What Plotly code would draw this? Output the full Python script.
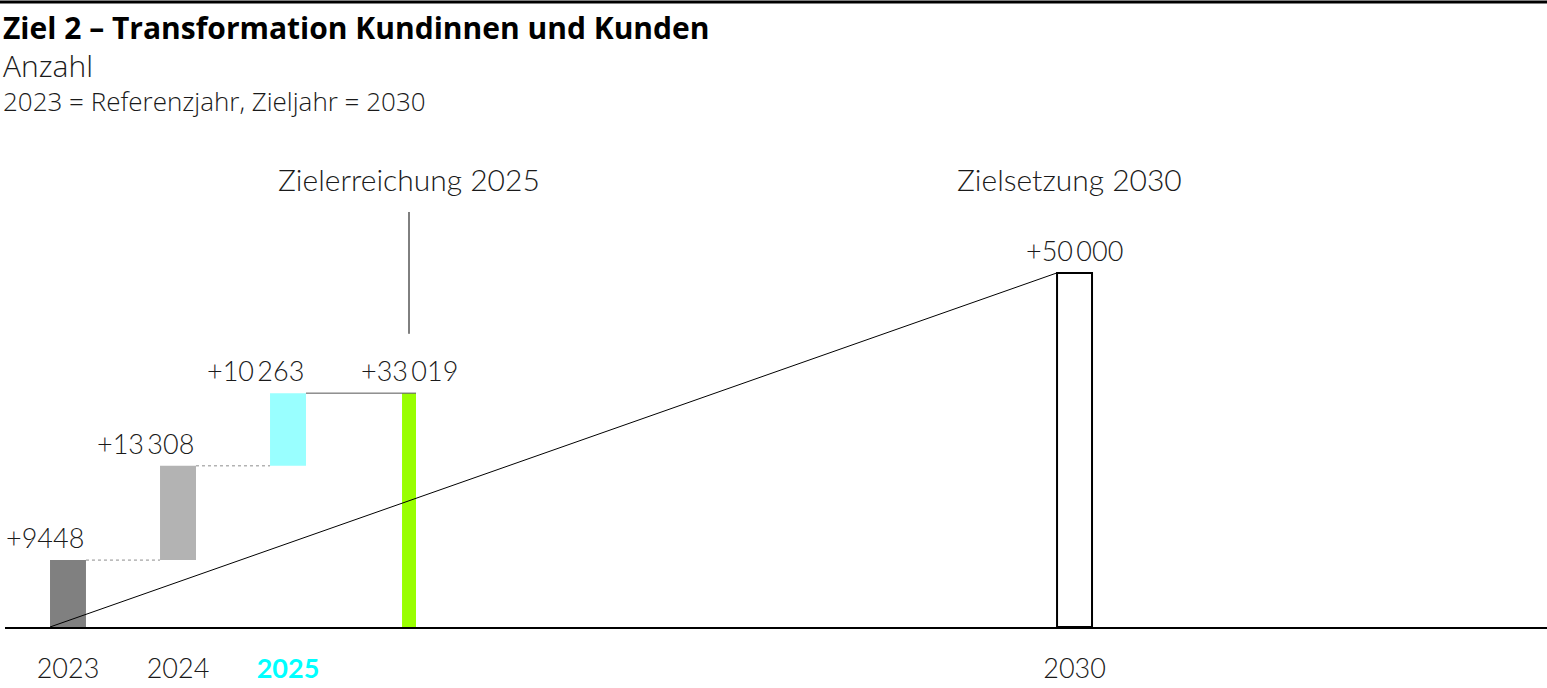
import plotly.graph_objects as go

# Werte
jahre = ["2023", "2024", "2025"]
zuwachs = [9448, 13308, 10263]
ziel_2025 = 33019
ziel_2030 = 50000
achsen_labels = ["2023", "2024", "<span style='color:#00ffff'><b>2025</b></span>", "2030"]

farben = ["#808080", "#b3b3b3", "#99ffff"]
gruen = "#99ff00"

# Lage auf der x-Achse (1 Einheit = ein Jahresschritt)
x_pos = [0, 1, 2]
x_z25 = 3.1
x_z30 = 9.15
w = 0.327
w25 = 0.127
w30 = 0.318

FONT = "Lato"
FONT_T = "Open Sans"
TXT = "#1a1a1a"


def fmt(v):
    s = f"{v:,}".replace(",", "\u2009") if v >= 10000 else str(v)
    return "+" + s


bases = []
s = 0
for v in zuwachs:
    bases.append(s)
    s += v

fig = go.Figure()

fig.add_trace(go.Bar(x=x_pos, y=zuwachs, base=bases, width=w,
                     marker=dict(color=farben, line=dict(width=0)), hoverinfo="skip"))
fig.add_trace(go.Bar(x=[x_z25], y=[ziel_2025], width=w25,
                     marker=dict(color=gruen, line=dict(width=0)), hoverinfo="skip"))
fig.add_trace(go.Bar(x=[x_z30], y=[ziel_2030], width=w30,
                     marker=dict(color="white", line=dict(color="black", width=2)), hoverinfo="skip"))

# Verbindungslinien
for i in range(len(zuwachs) - 1):
    top = bases[i] + zuwachs[i]
    fig.add_trace(go.Scatter(x=[x_pos[i] + w / 2, x_pos[i + 1] - w / 2], y=[top, top],
                             mode="lines", line=dict(color="#8c8c8c", width=1, dash="dot"),
                             hoverinfo="skip"))
fig.add_trace(go.Scatter(x=[x_pos[-1] + w / 2, x_z25 + w25 / 2], y=[ziel_2025, ziel_2025],
                         mode="lines", line=dict(color="#555555", width=1), hoverinfo="skip"))

# Zielpfad 2023 -> 2030
fig.add_trace(go.Scatter(x=[x_pos[0] - w / 2, x_z30 - w30 / 2], y=[0, ziel_2030],
                         mode="lines", line=dict(color="black", width=1), hoverinfo="skip"))

lbl = dict(family=FONT, size=27, color=TXT, weight=300)
ann = []
for i, v in enumerate(zuwachs):
    ann.append(dict(x=x_pos[i] + w / 2, y=bases[i] + v, text=fmt(v), xanchor="right",
                    yanchor="bottom", yshift=4, showarrow=False, font=lbl))
ann.append(dict(x=x_z25, y=ziel_2025, text=fmt(ziel_2025), xanchor="center",
                yanchor="bottom", yshift=4, showarrow=False, font=lbl))
ann.append(dict(x=x_z30, y=ziel_2030, text=fmt(ziel_2030), xanchor="center",
                yanchor="bottom", yshift=4, showarrow=False, font=lbl))
ann.append(dict(x=x_z25, y=1.0, yref="paper", yshift=-52, text="Zielerreichung 2025",
                showarrow=False, xanchor="center", yanchor="middle",
                font=dict(family=FONT, size=30, color=TXT, weight=300)))
ann.append(dict(x=x_z30, y=1.0, yref="paper", yshift=-52, xshift=-5, text="Zielsetzung 2030",
                showarrow=False, xanchor="center", yanchor="middle",
                font=dict(family=FONT, size=30, color=TXT, weight=300)))

# Titel
ann.append(dict(xref="paper", yref="paper", x=0, y=1, xshift=-4, yshift=100,
                text="<b>Ziel 2 – Transformation Kundinnen und Kunden</b>",
                showarrow=False, xanchor="left", yanchor="middle",
                font=dict(family=FONT_T, size=30, color="black", weight=700)))
ann.append(dict(xref="paper", yref="paper", x=0, y=1, xshift=-4, yshift=62,
                text="Anzahl", showarrow=False, xanchor="left", yanchor="middle",
                font=dict(family=FONT_T, size=30, color=TXT, weight=300)))
ann.append(dict(xref="paper", yref="paper", x=0, y=1, xshift=-4, yshift=26,
                text="2023 = Referenzjahr, Zieljahr = 2030", showarrow=False,
                xanchor="left", yanchor="middle",
                font=dict(family=FONT_T, size=26, color=TXT, weight=300)))

shapes = [
    # Linie über dem Titel
    dict(type="line", xref="paper", yref="paper", xsizemode="pixel", ysizemode="pixel",
         xanchor=0, yanchor=1, x0=-5, x1=1542, y0=125, y1=125,
         line=dict(color="black", width=3)),
    # Hinweislinie Zielerreichung
    dict(type="line", xref="x", yref="y", x0=x_z25, x1=x_z25, y0=41400, y1=58600,
         line=dict(color="black", width=1)),
]

fig.update_layout(
    width=1547, height=688,
    margin=dict(l=5, r=0, t=127, b=61),
    plot_bgcolor="white", paper_bgcolor="white",
    showlegend=False, barmode="overlay",
    annotations=ann, shapes=shapes,
    xaxis=dict(range=[-0.5727, 13.445], tickvals=x_pos + [x_z30], ticktext=achsen_labels,
               showgrid=False, zeroline=False, showline=True, linecolor="black", linewidth=2,
               ticks="", ticklabelstandoff=17,
               tickfont=dict(family=FONT, size=27, color=TXT, weight=300)),
    yaxis=dict(range=[0, 70600], visible=False, showgrid=False, zeroline=False),
)

fig.write_html("out.html", config={"displayModeBar": False},
               post_script="document.body.style.margin='0';")
